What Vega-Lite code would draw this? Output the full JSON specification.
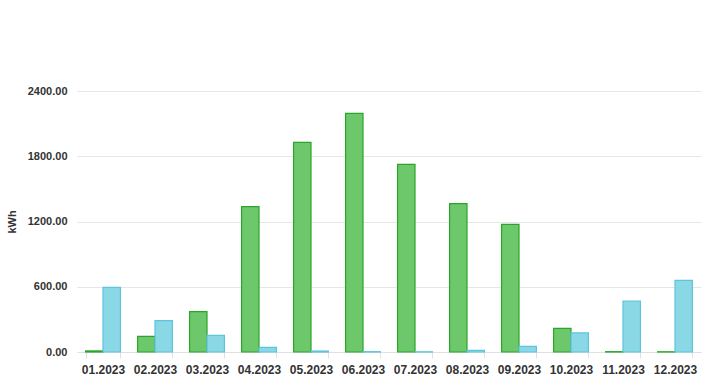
{
  "$schema": "https://vega.github.io/schema/vega-lite/v6.json",
  "width": 624,
  "height": 261,
  "autosize": {"type": "none"},
  "padding": {"left": 77, "top": 91, "right": 8, "bottom": 38},
  "background": "white",
  "data": {
    "values": [
      {"month": "01.2023", "series": "A", "kWh": 10},
      {"month": "01.2023", "series": "B", "kWh": 595},
      {"month": "02.2023", "series": "A", "kWh": 144},
      {"month": "02.2023", "series": "B", "kWh": 288},
      {"month": "03.2023", "series": "A", "kWh": 371},
      {"month": "03.2023", "series": "B", "kWh": 153},
      {"month": "04.2023", "series": "A", "kWh": 1336},
      {"month": "04.2023", "series": "B", "kWh": 43},
      {"month": "05.2023", "series": "A", "kWh": 1928},
      {"month": "05.2023", "series": "B", "kWh": 9},
      {"month": "06.2023", "series": "A", "kWh": 2195},
      {"month": "06.2023", "series": "B", "kWh": 3},
      {"month": "07.2023", "series": "A", "kWh": 1726},
      {"month": "07.2023", "series": "B", "kWh": 2},
      {"month": "08.2023", "series": "A", "kWh": 1364},
      {"month": "08.2023", "series": "B", "kWh": 15},
      {"month": "09.2023", "series": "A", "kWh": 1174},
      {"month": "09.2023", "series": "B", "kWh": 52},
      {"month": "10.2023", "series": "A", "kWh": 218},
      {"month": "10.2023", "series": "B", "kWh": 175},
      {"month": "11.2023", "series": "A", "kWh": 3},
      {"month": "11.2023", "series": "B", "kWh": 469},
      {"month": "12.2023", "series": "A", "kWh": 2},
      {"month": "12.2023", "series": "B", "kWh": 659}
    ]
  },
  "mark": {"type": "bar", "strokeWidth": 1.2, "fillOpacity": 1},
  "encoding": {
    "x": {
      "field": "month",
      "type": "nominal",
      "sort": null,
      "title": null,
      "scale": {"paddingInner": 0.33, "paddingOuter": 0.165},
      "axis": {
        "labelAngle": 0,
        "tickBand": "extent",
        "domainColor": "#e0e0e0",
        "tickColor": "#e0e0e0",
        "tickSize": 6,
        "labelPadding": 6,
        "labelFont": "Liberation Sans",
        "labelFontWeight": "bold",
        "labelFontSize": 12,
        "labelColor": "#333333",
        "grid": false
      }
    },
    "xOffset": {"field": "series", "type": "nominal", "scale": {"paddingInner": 0}},
    "y": {
      "field": "kWh",
      "type": "quantitative",
      "title": "kWh",
      "scale": {"domain": [0, 2400], "nice": false},
      "axis": {
        "values": [0, 600, 1200, 1800, 2400],
        "format": ".2f",
        "domain": false,
        "ticks": false,
        "labelPadding": 10,
        "labelFont": "Liberation Sans",
        "labelFontWeight": "bold",
        "labelFontSize": 11,
        "labelColor": "#333333",
        "gridColor": "#e6e6e6",
        "titleFont": "Liberation Sans",
        "titleFontWeight": "bold",
        "titleFontSize": 11,
        "titleColor": "#333333",
        "titlePadding": 10
      }
    },
    "fill": {
      "field": "series",
      "type": "nominal",
      "scale": {"domain": ["A", "B"], "range": ["#6dc86b", "#8ad8e6"]},
      "legend": null
    },
    "stroke": {
      "field": "series",
      "type": "nominal",
      "scale": {"domain": ["A", "B"], "range": ["#2aa52a", "#5cc4dc"]},
      "legend": null
    }
  },
  "config": {"view": {"stroke": null}}
}
